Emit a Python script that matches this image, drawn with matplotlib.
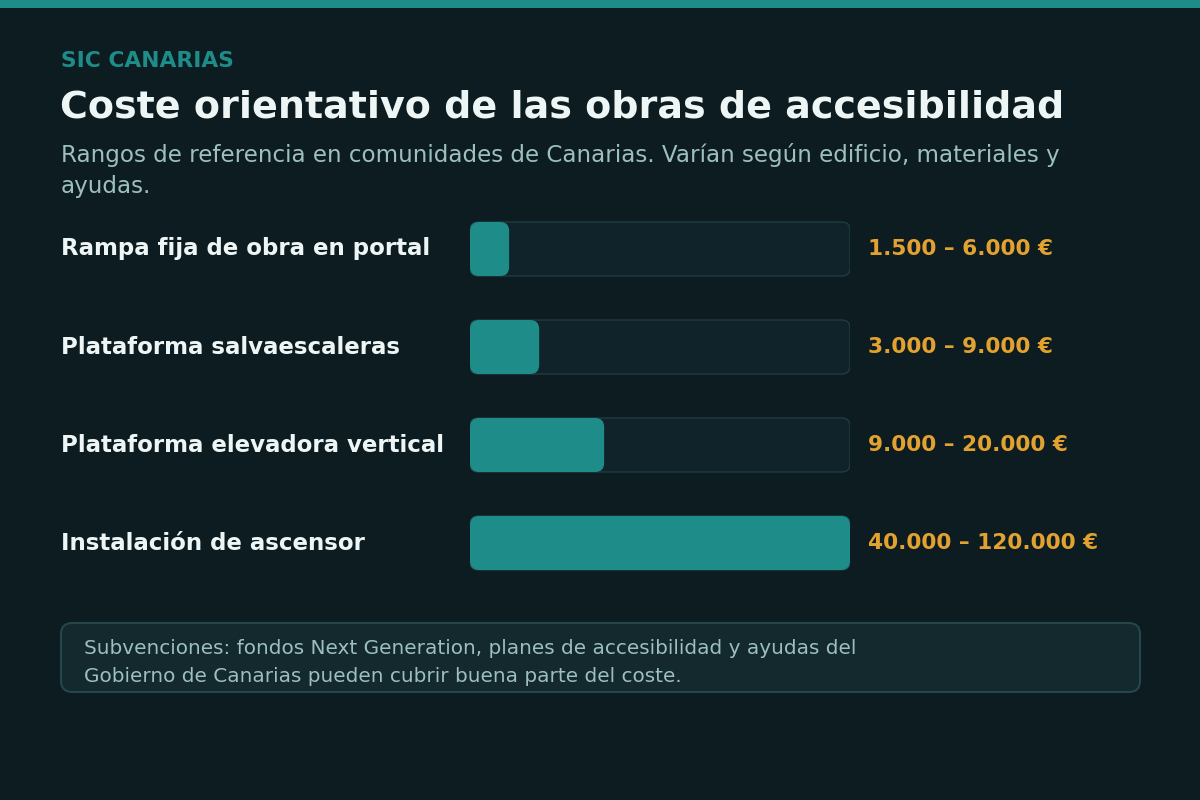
import matplotlib
matplotlib.use("Agg")
import matplotlib.pyplot as plt
from matplotlib.patches import FancyBboxPatch, Rectangle

plt.rcParams["font.family"] = ["DejaVu Sans"]

# ---- data ----
categories = [
    "Rampa fija de obra en portal",
    "Plataforma salvaescaleras",
    "Plataforma elevadora vertical",
    "Instalación de ascensor",
]
bar_pct = [10.3, 18.2, 35.3, 100.0]
range_labels = [
    "1.500 – 6.000 €",
    "3.000 – 9.000 €",
    "9.000 – 20.000 €",
    "40.000 – 120.000 €",
]
kicker = "SIC CANARIAS"
title = "Coste orientativo de las obras de accesibilidad"
subtitle_lines = [
    "Rangos de referencia en comunidades de Canarias. Varían según edificio, materiales y",
    "ayudas.",
]
note_lines = [
    "Subvenciones: fondos Next Generation, planes de accesibilidad y ayudas del",
    "Gobierno de Canarias pueden cubrir buena parte del coste.",
]

# ---- style ----
BG = "#0c1c20"
TEAL = "#1e8c89"
TRACK = "#11232a"
TRACK_EDGE = "#1f3c42"
ORANGE = "#e3a22f"
WHITE = "#eef5f5"
MUTED = "#9dbfbe"
NOTE_BG = "#13292e"
NOTE_EDGE = "#25464b"

W, H = 1200, 800
fig = plt.figure(figsize=(12, 8), dpi=100, facecolor=BG)

ax = fig.add_axes([0, 0, 1, 1])
ax.set_xlim(0, W)
ax.set_ylim(H, 0)
ax.axis("off")
ax.set_facecolor(BG)

def pt(px):
    return px * 0.72

ax.add_patch(Rectangle((0, 0), W, 8, color=TEAL, lw=0))

ax.text(61, 61, kicker, color=TEAL, fontsize=pt(21.8), fontweight="bold",
        va="center", ha="left")
ax.text(60, 108, title, color=WHITE, fontsize=pt(38), fontweight="bold",
        va="center", ha="left")
for k, line in enumerate(subtitle_lines):
    ax.text(61, 155 + 31 * k, line, color=MUTED, fontsize=pt(23),
            va="center", ha="left")

ax.add_patch(FancyBboxPatch((61, 623), 1079, 69,
                            boxstyle="round,pad=0,rounding_size=11",
                            fc=NOTE_BG, ec=NOTE_EDGE, lw=1.5))
for k, line in enumerate(note_lines):
    ax.text(84, 649 + 27 * k, line, color=MUTED, fontsize=pt(20),
            va="center", ha="left")

row_h = 98
top = 249 - row_h / 2
n = len(categories)
bx0, bx1 = 470, 850
bax = fig.add_axes([bx0 / W, 1 - (top + n * row_h) / H,
                    (bx1 - bx0) / W, n * row_h / H])
bax.set_xlim(0, 100)
bax.set_ylim(n - 0.5, -0.5)
bax.axis("off")
bax.patch.set_alpha(0)

px_x = (bx1 - bx0) / 100.0
px_y = row_h
bh = 54 / px_y

def rounded(x, y, w, h, r_px, **kw):
    r = r_px / px_x
    aspect = (r_px / px_y) / r
    p = FancyBboxPatch((x, y), w, h,
                       boxstyle=f"round,pad=0,rounding_size={r}",
                       mutation_aspect=aspect, **kw)
    bax.add_patch(p)

for i, (cat, v, lab) in enumerate(zip(categories, bar_pct, range_labels)):
    rounded(0, i - bh / 2, 100, bh, 8, fc=TRACK, ec=TRACK_EDGE, lw=1)
    rounded(0, i - bh / 2, v, bh, 9, fc=TEAL, ec="none")
    cy = top + row_h * (i + 0.5)
    ax.text(61, cy, cat, color=WHITE, fontsize=pt(22.9), fontweight="bold",
            va="center", ha="left")
    ax.text(868, cy, lab, color=ORANGE, fontsize=pt(21.7), fontweight="bold",
            va="center", ha="left")

fig.savefig("out.png", dpi=100, facecolor=BG)
